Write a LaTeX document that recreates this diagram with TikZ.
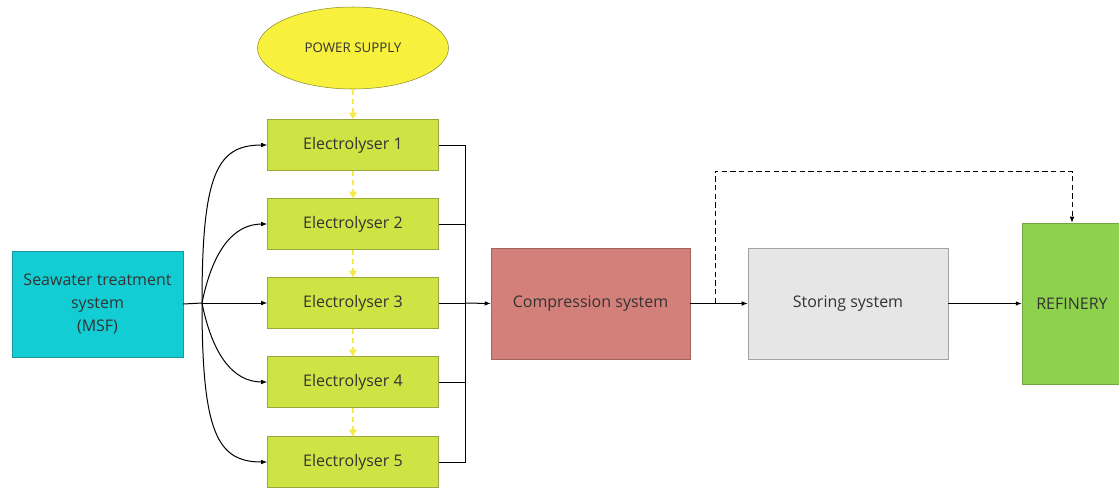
\documentclass[tikz,border=0pt]{standalone}
\usepackage{fontspec}
\setmainfont{Open Sans}
\usepackage{tikz}
\usetikzlibrary{shapes,arrows.meta,positioning}
\definecolor{txtgrey}{HTML}{333333}
\definecolor{elfill}{HTML}{CEE444}
\definecolor{eldraw}{HTML}{9BA63C}
\definecolor{seafill}{HTML}{13CDD4}
\definecolor{seadraw}{HTML}{1B98A0}
\definecolor{compfill}{HTML}{D4807A}
\definecolor{compdraw}{HTML}{A2625D}
\definecolor{storefill}{HTML}{E6E6E6}
\definecolor{storedraw}{HTML}{A3A3A3}
\definecolor{reffill}{HTML}{8ED14C}
\definecolor{refdraw}{HTML}{6EA63A}
\definecolor{psfill}{HTML}{F7F03C}
\definecolor{psdraw}{HTML}{8E8A30}
\definecolor{psline}{HTML}{F5EA4A}
\tikzstyle{elbox} = [rectangle, draw=eldraw, fill=elfill, text=txtgrey, minimum width=128.25pt, minimum height=38.25pt, font=\fontsize{12}{14}\selectfont]
\tikzstyle{seabox} = [rectangle, draw=seadraw, fill=seafill, text=txtgrey, minimum width=128.25pt, minimum height=79.5pt, align=center, font=\fontsize{12}{17}\selectfont]
\tikzstyle{compbox} = [rectangle, draw=compdraw, fill=compfill, text=txtgrey, minimum width=149.25pt, minimum height=83.25pt, font=\fontsize{12}{14}\selectfont]
\tikzstyle{storebox} = [rectangle, draw=storedraw, fill=storefill, text=txtgrey, minimum width=150pt, minimum height=83.25pt, font=\fontsize{12}{14}\selectfont]
\tikzstyle{refbox} = [rectangle, draw=refdraw, fill=reffill, text=txtgrey, minimum width=75pt, minimum height=120.75pt, font=\fontsize{12}{14}\selectfont]
\tikzstyle{psnode} = [ellipse, draw=psdraw, fill=psfill, text=txtgrey, minimum width=143.25pt, minimum height=61.5pt, inner sep=0pt, font=\fontsize{10}{12}\selectfont]
\tikzstyle{wire} = [draw, line width=0.75pt, black]
\tikzstyle{flow} = [wire, -{Latex[length=4.5pt,width=3.5pt]}]
\tikzstyle{dflow} = [flow, dash pattern=on 4pt off 2.5pt]
\tikzstyle{pflow} = [draw=psline, line width=1.5pt, dash pattern=on 4pt off 3pt, -{Triangle[length=5pt,width=6pt,fill=psline]}]

\begin{document}
\begin{tikzpicture}[x=0.75pt, y=-0.75pt]
			\useasboundingbox (0,0) rectangle (1119,487);
			\node [psnode] (ps) at (353,48) {POWER SUPPLY};
			\node [elbox] (el1) at (353,145) {Electrolyser 1};
			\node [elbox] (el2) at (353,224) {Electrolyser 2};
			\node [elbox] (el3) at (353,303) {Electrolyser 3};
			\node [elbox] (el4) at (353,382) {Electrolyser 4};
			\node [elbox] (el5) at (353,462) {Electrolyser 5};
			\node [seabox] (sea) at (97.5,304) {Seawater treatment\\system\\(MSF)};
			\node [compbox] (comp) at (590.5,303.5) {Compression system};
			\node [storebox] (store) at (848,303.5) {Storing system};
			\node [refbox] (ref) at (1072,303.5) {REFINERY};
			\coordinate (split) at (202,303);
			\coordinate (bus) at (465,303);
			\coordinate (tap) at (715,303);
			\coordinate (bend) at (1072,171);
			
			% power supply chain
			\path [pflow] (ps.south) -- (el1.north);
			\path [pflow] (el1.south) -- (el2.north);
			\path [pflow] (el2.south) -- (el3.north);
			\path [pflow] (el3.south) -- (el4.north);
			\path [pflow] (el4.south) -- (el5.north);
			
			% seawater to electrolysers
			\path [wire] (sea.east) -- (split);
			\path [flow] (split) .. controls +(0,-130) and +(-50,0) .. (el1.west);
			\path [flow] (split) .. controls +(10,-50) and +(-35,0) .. (el2.west);
			\path [flow] (split) -- (el3.west);
			\path [flow] (split) .. controls +(10,50) and +(-35,0) .. (el4.west);
			\path [flow] (split) .. controls +(0,130) and +(-50,0) .. (el5.west);
			
			% collecting bus
			\path [wire] (el1.east) -| (bus);
			\path [wire] (el2.east) -| (bus);
			\path [wire] (el3.east) -- (bus);
			\path [wire] (el4.east) -| (bus);
			\path [wire] (el5.east) -| (bus);
			\path [flow] (bus) -- (comp.west);
			
			\path [flow] (comp.east) -- (store.west);
			\path [flow] (store.east) -- (ref.west);
			\path [dflow] (tap) |- (bend) -- (ref.north);
		\end{tikzpicture}
\end{document}
